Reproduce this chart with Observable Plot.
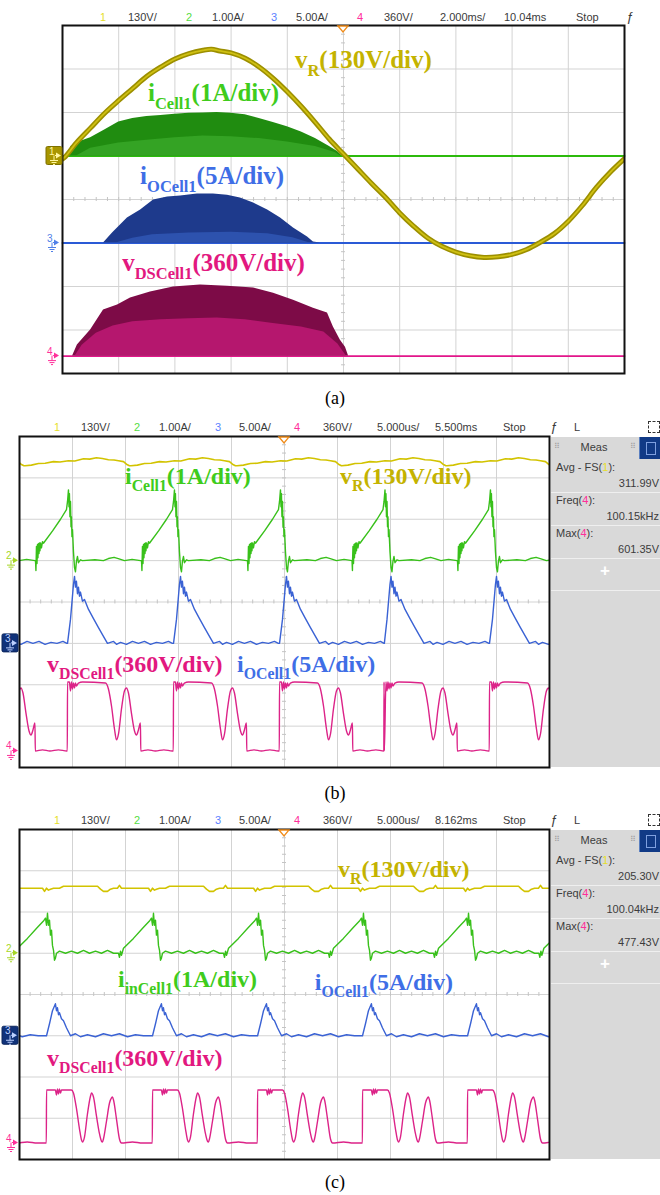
<!DOCTYPE html>
<html><head><meta charset="utf-8">
<script src="https://cdn.jsdelivr.net/npm/d3@7"></script>
<script src="https://cdn.jsdelivr.net/npm/@observablehq/plot@0.6"></script>
<style>
body{margin:0;background:#fff;}
#root{position:relative;width:660px;height:1195px;overflow:hidden;background:#fff;font-family:"Liberation Sans",Arial,sans-serif;}
.hd{position:absolute;font-size:11px;line-height:14px;color:#3a3a3a;white-space:nowrap;}
.cap{position:absolute;width:60px;text-align:center;font-family:"Liberation Serif","Times New Roman",serif;font-size:18px;line-height:20px;color:#000;}
.mp{position:absolute;left:551px;width:109px;background:#d9d9d9;overflow:hidden;}
.mt{position:absolute;font-size:11px;line-height:14px;color:#3c3c3c;white-space:nowrap;}
.ml{position:absolute;left:0;width:109px;height:1px;background:#efefef;}
svg{position:absolute;left:0;}
</style></head><body><div id="root"></div>
<script>
// ================= DATA =================
// scope channel settings (units per division) and ground offsets (divisions from centre)
const chUnitsPerDiv = {1: 130, 2: 1, 3: 5, 4: 360};
const chGround = {1: 1, 2: 1, 3: -1, 4: -3.6};

// grid divisions
const gridYDiv = [-4, -3, -2, -1, 0, 1, 2, 3, 4];
const gridXa = [0, 2, 4, 6, 8, 10, 12, 14, 16, 18, 20];          // ms
const gridXbc = [0, 5, 10, 15, 20, 25, 30, 35, 40, 45, 50];      // us

// header texts
const headA = ["1", "130V/", "2", "1.00A/", "3", "5.00A/", "4", "360V/", "2.000ms/", "10.04ms", "Stop", "ƒ"];
const headB = ["1", "130V/", "2", "1.00A/", "3", "5.00A/", "4", "360V/", "5.000us/", "5.500ms", "Stop", "ƒ", "L"];
const headC = ["1", "130V/", "2", "1.00A/", "3", "5.00A/", "4", "360V/", "5.000us/", "8.162ms", "Stop", "ƒ", "L"];

// measurement panels
const measB = [["Avg - FS(", "1", "):", "311.99V"], ["Freq(", "4", "):", "100.15kHz"], ["Max(", "4", "):", "601.35V"]];
const measC = [["Avg - FS(", "1", "):", "205.30V"], ["Freq(", "4", "):", "100.04kHz"], ["Max(", "4", "):", "477.43V"]];

// ---- panel (a): line period, time in ms ----
const aVR = [[0,-9],[0.1,-2],[0.5,40],[1.0,84],[1.5,128],[2.0,166],[2.5,202],[3.0,238],[3.5,266],[4.0,290],[4.5,306],[5.0,316],[5.3,319],[5.6,314],[6.0,308],[6.5,292],[7.0,266],[7.5,232],[8.0,192],[8.5,148],[9.0,100],[9.5,50],[10.0,6],[10.5,-38],[11.0,-82],[11.5,-124],[12.0,-170],[12.5,-210],[13.0,-245],[13.5,-270],[14.0,-287],[14.5,-298],[15.0,-303],[15.5,-301],[16.0,-294],[16.5,-280],[17.0,-258],[17.5,-232],[18.0,-195],[18.5,-148],[19.0,-94],[19.5,-48],[20.0,-8]];
const aGreenBase = [[0,0],[20,0]];
const aGreenOuter = [[0.18,0],[0.3,0.22],[0.6,0.33],[1.0,0.42],[1.5,0.6],[2.0,0.78],[2.5,0.86],[3.0,0.91],[3.5,0.93],[4.0,0.96],[4.5,0.98],[5.0,0.99],[5.5,1.0],[6.0,0.98],[6.5,0.95],[7.0,0.86],[7.5,0.77],[8.0,0.67],[8.5,0.55],[9.0,0.4],[9.5,0.22],[9.8,0.1],[9.96,0]];
const aGreenInner = [[0.5,0],[1.0,0.18],[2.0,0.3],[3.0,0.36],[4.0,0.42],[5.0,0.46],[6.0,0.44],[7.0,0.4],[8.0,0.32],[9.0,0.22],[9.7,0.08],[9.9,0]];
const aBlueBase = [[0,0],[20,0]];
const aBlueOuter = [[1.46,0],[1.78,1.15],[2.31,2.87],[2.78,3.79],[3.24,4.94],[3.74,5.29],[4.2,5.4],[4.8,5.63],[5.37,5.63],[5.87,5.5],[6.33,5.17],[6.8,4.6],[7.3,3.79],[7.76,2.87],[8.22,1.72],[8.72,0.69],[8.93,0.11],[9.18,0]];
const aBlueInner = [[1.9,0],[2.5,0.55],[3.2,0.95],[4.5,1.15],[6.0,1.25],[7.3,1.05],[8.2,0.6],[8.8,0]];
const aPinkBase = [[0,0],[20,0]];
const aPinkOuter = [[0.36,0],[0.53,91],[1.0,215],[1.46,381],[1.96,422],[2.42,480],[3.13,530],[3.95,571],[4.91,588],[5.87,579],[6.8,563],[7.51,521],[8.22,463],[8.93,397],[9.43,356],[9.64,240],[9.89,132],[10.07,74],[10.18,0]];
const aPinkInner = [[0.45,0],[0.7,90],[1.2,190],[1.8,250],[2.5,285],[3.5,300],[4.5,310],[5.5,315],[6.5,300],[7.5,270],[8.5,240],[9.3,200],[9.8,100],[10.1,0]];

// ---- panel (b): one switching period (us relative to the current spike) ----
const bSpikes = [-5.33, 4.62, 14.62, 24.62, 34.48, 44.43, 54.4];
const bYellowPeriod = [[-4.1,298],[-3.5,300],[-2.83,305],[-2.2,306],[-1.42,311],[-0.8,310],[0,314],[0.6,313],[1.42,320],[2.0,319],[2.64,323],[3.2,321],[3.77,317],[4.3,316],[4.72,314],[5.19,311],[5.47,303],[5.75,298]];
const bGreenPeriod = [[-3.11,0],[-3.07,-0.24],[-3.02,0.34],[-2.97,-0.07],[-2.92,0.39],[-2.88,0.07],[-2.83,0.41],[-2.78,0.17],[-2.74,0.43],[-2.69,0.24],[-2.64,0.43],[-2.55,0.31],[-2.45,0.46],[-2.36,0.42],[-1.5,0.72],[-0.75,1.0],[-0.19,1.23],[-0.09,1.43],[0,1.71],[0.05,1.3],[0.09,1.62],[0.14,1.06],[0.19,1.43],[0.24,0.82],[0.28,1.06],[0.33,0.58],[0.38,0.75],[0.47,0.22],[0.57,-0.17],[0.66,-0.27],[0.75,-0.02],[0.85,0.1],[0.94,-0.05],[1.13,0.02],[1.32,0],[2.5,0.02],[3.3,0],[3.77,0.05],[4.3,0.08],[4.7,0.05],[5.28,0],[6.0,0.03],[6.8,0]];
const bBluePeriod = [[-0.09,0],[0.19,2.9],[0.47,7.1],[0.57,8.1],[0.66,6.8],[0.75,7.5],[0.85,6.0],[0.94,6.8],[1.04,5.7],[1.13,6.2],[1.32,5.1],[1.51,5.3],[1.89,4.1],[2.36,3.0],[2.83,1.9],[3.3,0.85],[3.68,0],[4.25,0.24],[4.53,-0.12],[4.91,0.12],[5.47,-0.12],[6.04,0.24],[6.6,0],[7.17,0.24],[7.74,-0.12],[8.3,0.12],[8.87,0],[9.43,0.24],[9.8,0]];
const bPinkPeriod = [[-0.11,0],[-0.09,600],[0.09,600],[0.19,522],[0.28,600],[0.38,539],[0.47,591],[0.57,548],[0.66,591],[0.75,565],[0.94,591],[1.32,600],[3.49,591],[3.77,539],[4.06,391],[4.34,191],[4.53,96],[4.72,148],[5.0,365],[5.28,522],[5.47,548],[5.66,504],[5.94,330],[6.23,174],[6.42,139],[6.6,183],[6.79,243],[6.82,0],[7.5,9],[8.2,0],[9.0,9],[9.8,0]];

// ---- panel (c) ----
const cSpikes = [-7.29, 2.64, 12.64, 22.55, 32.45, 42.36, 52.3];
const cYellowPeriod = [[-0.47,205],[-0.28,195],[-0.09,205],[0.09,199],[0.28,202],[0.57,205],[1.13,205],[1.51,211],[1.89,211],[4.72,211],[5.0,202],[5.28,195],[5.66,195],[5.94,202],[6.23,205],[6.6,205],[6.79,214],[6.98,205],[7.55,205],[8.49,205],[9.4,205]];
const cGreenPeriod = [[-3.3,0],[-3.21,-0.1],[-3.11,0.05],[-3.02,-0.05],[-2.83,0.12],[-1.89,0.36],[-0.94,0.63],[-0.38,0.78],[-0.19,0.85],[-0.09,0.68],[0,0.97],[0.09,0.68],[0.19,0.8],[0.28,0.44],[0.38,0.56],[0.47,0.19],[0.57,0.07],[0.66,-0.17],[0.75,-0.12],[0.85,0],[1.13,0.05],[1.7,0],[2.26,0.05],[2.83,0],[3.4,0.07],[3.96,0],[4.53,0.05],[5.09,0],[5.66,0.07],[6.23,0],[6.6,0]];
const cBluePeriod = [[-0.09,0],[0.19,1.45],[0.47,3.03],[0.75,3.88],[0.85,3.03],[0.94,3.39],[1.04,2.55],[1.13,2.79],[1.32,2.06],[1.51,1.82],[1.79,0.97],[1.98,0.48],[2.17,0],[2.64,0.24],[3.11,-0.12],[3.77,0.12],[4.53,-0.12],[5.28,0.24],[6.04,0],[6.79,0.24],[7.55,-0.12],[8.3,0.12],[9.06,0],[9.8,0]];
const cPinkPeriod = [[-0.11,0],[-0.09,462],[0.28,462],[0.75,462],[0.85,419],[0.94,471],[1.04,428],[1.13,471],[1.23,436],[1.32,462],[2.26,462],[2.45,436],[2.74,297],[3.02,122],[3.21,26],[3.3,9],[3.49,52],[3.77,253],[4.06,410],[4.15,436],[4.34,401],[4.62,236],[4.91,79],[5.09,17],[5.19,9],[5.28,35],[5.57,192],[5.85,349],[6.04,393],[6.13,401],[6.23,375],[6.51,209],[6.79,35],[6.98,0],[8.02,9],[8.96,0],[9.8,0]];

// trace labels: [main, subscript, rest, channel]
const labA = [["v","R","(130V/div)",1],["i","Cell1","(1A/div)",2],["i","OCell1","(5A/div)",3],["v","DSCell1","(360V/div)",4]];
const labB = [["i","Cell1","(1A/div)",2],["v","R","(130V/div)",1],["v","DSCell1","(360V/div)",4],["i","OCell1","(5A/div)",3]];
const labC = [["v","R","(130V/div)",1],["i","inCell1","(1A/div)",2],["i","OCell1","(5A/div)",3],["v","DSCell1","(360V/div)",4]];

// ================= STYLE / LAYOUT =================
const GRID = "#d3d3d3";
const hdColors = {"1":"#e6e02a","2":"#55dd44","3":"#5a7fff","4":"#ff2f9a"};
const labColors = {1:"#c4b300",2:"#3fcc1c",3:"#3f6ee6",4:"#e2187f"};
const root = document.getElementById("root");

const toDiv = (ch, v) => chGround[ch] + v / chUnitsPerDiv[ch];
function expand(period, events) {
  return events.flatMap(t0 => period.map(([dt, v]) => [t0 + dt, v])).sort((a, b) => a[0] - b[0]);
}
function header(items, xs, top, extra) {
  items.forEach((t, i) => {
    const d = document.createElement("div");
    d.className = "hd"; d.textContent = t;
    d.style.left = xs[i] + "px"; d.style.top = top + "px";
    if (hdColors[t] && i < 8) d.style.color = hdColors[t];
    if (t === "ƒ") { d.style.fontSize = "13px"; d.style.fontStyle = "italic"; }
    root.appendChild(d);
  });
  if (extra) {
    const b = document.createElement("div");
    b.style.cssText = `position:absolute;left:648px;top:${top+1}px;width:10px;height:10px;border:1px dashed #333;`;
    root.appendChild(b);
  }
}
function caption(t, top) {
  const d = document.createElement("div"); d.className = "cap"; d.textContent = t;
  d.style.left = "305px"; d.style.top = top + "px"; root.appendChild(d);
}
function measPanel(rows, top, height) {
  const p = document.createElement("div"); p.className = "mp";
  p.style.top = top + "px"; p.style.height = height + "px";
  let html = `<div class="mt" style="left:3px;top:3px;font-size:8px;color:#a0a0a0">⠿</div>
  <div class="mt" style="left:0;width:86px;top:3px;text-align:center;">Meas</div>
  <div class="mt" style="left:79px;top:3px;font-size:8px;color:#a0a0a0">⠿</div>
  <div style="position:absolute;left:88px;top:0;width:21px;height:22px;background:#113a86;border-left:1px solid #5a7fc0;"><div style="position:absolute;left:6px;top:5px;width:8px;height:11px;border:1px solid #7fa0e0;"></div></div>`;
  rows.forEach((r, i) => {
    const y = 23 + i * 33;
    html += `<div class="mt" style="left:5px;top:${y}px">${r[0]}<span style="color:${hdColors[r[1]]}">${r[1]}</span>${r[2]}</div>`;
    html += `<div class="mt" style="right:1px;top:${y+16}px">${r[3]}</div>`;
    html += `<div class="ml" style="top:${y+32}px"></div>`;
  });
  html += `<div class="mt" style="left:49px;top:127px;color:#fff;font-size:17px;font-weight:bold">+</div>`;
  html += `<div class="ml" style="top:153px"></div>`;
  p.innerHTML = html; root.appendChild(p);
}

function gridMarks(xGrid, xCenter, xHalf, yHalf, xMinorStep) {
  const minorX = d3.range(xGrid[0], xGrid[xGrid.length-1] + 1e-9, xMinorStep);
  const minorY = d3.range(-4, 4.0001, 0.2);
  return [
    Plot.ruleX(xGrid, {stroke: GRID, strokeWidth: 1}),
    Plot.ruleY(gridYDiv, {stroke: GRID, strokeWidth: 1}),
    Plot.ruleX(minorX, {x: d => d, y1: -yHalf, y2: yHalf, stroke: "#c4c4c4"}),
    Plot.ruleY(minorY, {y: d => d, x1: xCenter - xHalf, x2: xCenter + xHalf, stroke: "#c4c4c4"})
  ];
}
const X = d => d[0];
const Y = ch => d => toDiv(ch, d[1]);
const G = ch => () => chGround[ch];

function richLabels(p, labs, pos, size) {
  const svg = d3.select(p), sx = p.scale("x"), sy = p.scale("y");
  labs.forEach((l, i) => {
    const t = svg.append("text").attr("x", sx.apply(pos[i][0])).attr("y", sy.apply(pos[i][1]))
      .attr("text-anchor", "start")
      .attr("fill", labColors[l[3]]).attr("font-family", '"Liberation Serif","Times New Roman",serif')
      .attr("font-weight", "bold").attr("font-size", size);
    t.append("tspan").text(l[0]);
    t.append("tspan").attr("font-size", size * 0.66).attr("dy", size * 0.3).text(l[1]);
    t.append("tspan").attr("dy", -size * 0.3).text(l[2]);
  });
}
function chMarker(p, ch, x0, color, box) {
  const svg = d3.select(p), y = p.scale("y").apply(chGround[ch]);
  const g = svg.append("g");
  const light = ch === 1 ? "#fff6a0" : "#bcd0ff";
  if (box) g.append("rect").attr("x", x0 - 3).attr("y", y - 9).attr("width", 16).attr("height", 18).attr("fill", box).attr("stroke", d3.color(box).darker(0.8)).attr("rx", 1.5);
  const c = box ? light : color;
  g.append("text").attr("x", x0).attr("y", y - 1).attr("text-anchor", "start").attr("font-size", 10).attr("font-family", "Liberation Sans, Arial").attr("fill", c).text(ch);
  g.append("path").attr("d", `M${x0+7},${y-3}L${x0+12},${y}L${x0+7},${y+3}Z`).attr("fill", c);
  g.append("path").attr("d", `M${x0+6},${y}H${x0+8}M${x0+5},${y}V${y+5}M${x0+1},${y+5}H${x0+9}M${x0+2.5},${y+7}H${x0+7.5}M${x0+4},${y+9}H${x0+6}`)
    .attr("stroke", c).attr("fill", "none").attr("stroke-width", 1);
}
function trigger(p, xc) {
  const svg = d3.select(p), x = p.scale("x").apply(xc), y = p.scale("y").apply(4);
  svg.append("path").attr("d", `M${x-5},${y+1}L${x},${y+7}L${x+5},${y+1}Z`).attr("fill", "#fff").attr("stroke", "#f08c1a").attr("stroke-width", 1.3);
}
function place(p, top) { p.style.top = top + "px"; root.appendChild(p); }

// ================= PANEL (a) =================
header(headA, [100,128,186,212,271,296,357,384,440,504,576,626], 10, false);
const pa = Plot.plot({
  width: 660, height: 375, marginLeft: 62, marginRight: 36, marginTop: 25, marginBottom: 2,
  x: {domain: [0, 20], axis: null}, y: {domain: [-4, 4], axis: null},
  marks: [
    ...gridMarks(gridXa, 10, 0.07, 0.046, 0.4),
    Plot.line(aPinkBase, {x: X, y: Y(4), stroke: "#e2168a", strokeWidth: 1.8}),
    Plot.area(aPinkOuter, {x1: X, y1: G(4), y2: Y(4), fill: "#7d0b47"}),
    Plot.area(aPinkInner, {x1: X, y1: G(4), y2: Y(4), fill: "#b5176e"}),
    Plot.line(aBlueBase, {x: X, y: Y(3), stroke: "#2a5ad6", strokeWidth: 1.8}),
    Plot.area(aBlueOuter, {x1: X, y1: G(3), y2: Y(3), fill: "#1e3a8c"}),
    Plot.area(aBlueInner, {x1: X, y1: G(3), y2: Y(3), fill: "#2d52ae"}),
    Plot.line(aGreenBase, {x: X, y: Y(2), stroke: "#2cba0c", strokeWidth: 1.8}),
    Plot.area(aGreenOuter, {x1: X, y1: G(2), y2: Y(2), fill: "#208c10"}),
    Plot.area(aGreenInner, {x1: X, y1: G(2), y2: Y(2), fill: "#34a324"}),
    Plot.line(aVR, {x: X, y: Y(1), stroke: "#9c8f00", strokeWidth: 5, curve: "catmull-rom", clip: true}),
    Plot.line(aVR, {x: X, y: Y(1), stroke: "#cfc012", strokeWidth: 1.8, curve: "catmull-rom", clip: true}),
    Plot.frame({stroke: "#111", strokeWidth: 2})
  ]
});
richLabels(pa, labA, [[8.29, 3.01], [3.06, 2.25], [2.78, 0.34], [2.14, -1.66]], 25);
chMarker(pa, 1, 49, "#b8a400", "#a89600");
chMarker(pa, 3, 47, "#4f7fe8", null);
chMarker(pa, 4, 47, "#ff2f9a", null);
trigger(pa, 10);
place(pa, 0);
caption("(a)", 388);

// ================= PANEL (b) =================
const hdXs = [54,81,134,159,215,239,294,323,377,435,503,550,574];
header(headB, hdXs, 420, true);
const pb = Plot.plot({
  width: 660, height: 335, marginLeft: 19, marginRight: 111, marginTop: 2, marginBottom: 2,
  x: {domain: [0, 50], axis: null}, y: {domain: [-4, 4], axis: null},
  marks: [
    ...gridMarks(gridXbc, 25, 0.19, 0.048, 1),
    Plot.line(expand(bYellowPeriod, bSpikes), {x: X, y: Y(1), stroke: "#d2c300", strokeWidth: 1.6, clip: true}),
    Plot.line(expand(bGreenPeriod, bSpikes), {x: X, y: Y(2), stroke: "#38c01a", strokeWidth: 1.4, clip: true}),
    Plot.line(expand(bBluePeriod, bSpikes), {x: X, y: Y(3), stroke: "#3a62d4", strokeWidth: 1.4, clip: true}),
    Plot.line(expand(bPinkPeriod, bSpikes), {x: X, y: Y(4), stroke: "#dc2388", strokeWidth: 1.4, curve: "monotone-x", clip: true}),
    Plot.frame({stroke: "#111", strokeWidth: 2})
  ]
});
richLabels(pb, labB, [[10.0, 2.84], [30.28, 2.84], [2.64, -1.70], [20.57, -1.70]], 24);
chMarker(pb, 2, 6, "#a6d626", null);
chMarker(pb, 3, 5, "#3a62d4", "#10327a");
chMarker(pb, 4, 6, "#ff2f9a", null);
trigger(pb, 25);
place(pb, 434);
measPanel(measB, 437, 330);
caption("(b)", 783);

// ================= PANEL (c) =================
header(headC, hdXs, 813, true);
const pc = Plot.plot({
  width: 660, height: 334, marginLeft: 19, marginRight: 111, marginTop: 2, marginBottom: 2,
  x: {domain: [0, 50], axis: null}, y: {domain: [-4, 4], axis: null},
  marks: [
    ...gridMarks(gridXbc, 25, 0.19, 0.048, 1),
    Plot.line(expand(cYellowPeriod, cSpikes), {x: X, y: Y(1), stroke: "#d2c300", strokeWidth: 1.6, clip: true}),
    Plot.line(expand(cGreenPeriod, cSpikes), {x: X, y: Y(2), stroke: "#38c01a", strokeWidth: 1.4, clip: true}),
    Plot.line(expand(cBluePeriod, cSpikes), {x: X, y: Y(3), stroke: "#3a62d4", strokeWidth: 1.4, clip: true}),
    Plot.line(expand(cPinkPeriod, cSpikes), {x: X, y: Y(4), stroke: "#dc2388", strokeWidth: 1.4, curve: "monotone-x", clip: true}),
    Plot.frame({stroke: "#111", strokeWidth: 2})
  ]
});
richLabels(pc, labC, [[30.1, 2.84], [9.34, 0.17], [27.9, 0.10], [2.64, -1.75]], 24);
chMarker(pc, 2, 6, "#a6d626", null);
chMarker(pc, 3, 5, "#3a62d4", "#10327a");
chMarker(pc, 4, 6, "#ff2f9a", null);
trigger(pc, 25);
place(pc, 827);
measPanel(measC, 830, 329);
caption("(c)", 1172);
</script></body></html>
